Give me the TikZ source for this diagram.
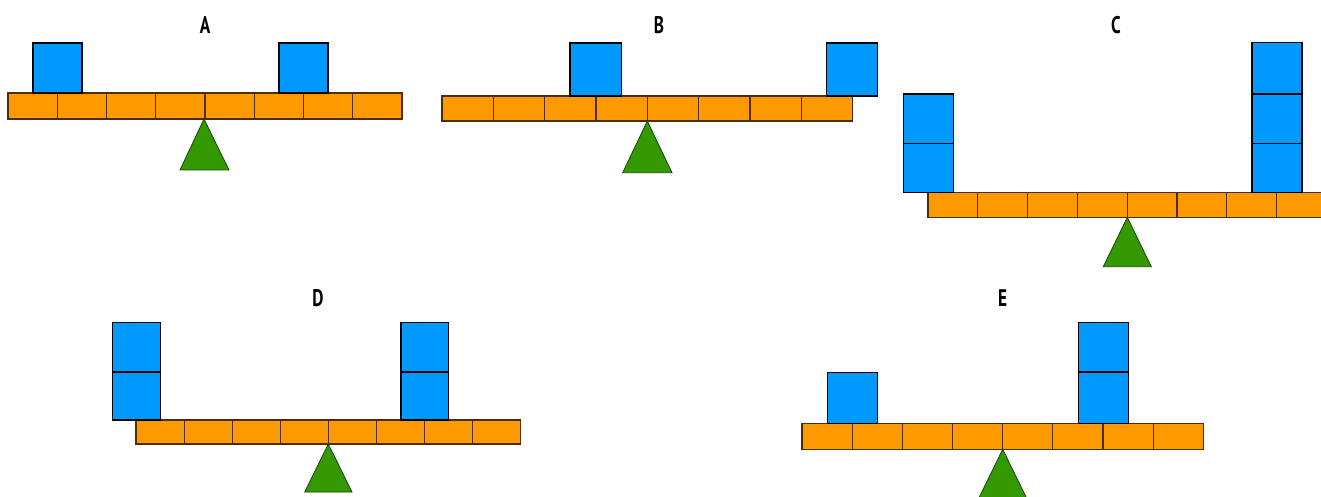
\documentclass[tikz,border=0pt]{standalone}
\usepackage{fontspec}
\setmainfont{PT Sans}[FakeStretch=0.72]
\definecolor{beamor}{RGB}{255,153,0}
\definecolor{blkblue}{RGB}{0,153,255}
\definecolor{fulgreen}{RGB}{51,153,0}
\begin{document}
\begin{tikzpicture}[x=1pt,y=-1pt,
  beamcell/.style={fill=beamor,draw=black!70!beamor,line width=1.1pt},
  blk/.style={fill=blkblue,draw=black,line width=1.3pt},
  fulc/.style={fill=fulgreen,draw=black!55!fulgreen,line width=0.8pt},
  lbl/.style={font=\fontsize{24}{26}\selectfont\bfseries,inner sep=0pt,anchor=center}]
\useasboundingbox (0,0) rectangle (1321,497);
\clip (0,0) rectangle (1321,497);
% ---------- A ----------
\node[lbl] (labA) at (205,25) {A};
\foreach \i in {0,...,7} \draw[beamcell] ({8+\i*49.25},93) rectangle ++(49.25,26);
\draw[fulc] (204,119) -- (229,170) -- (180,170) -- cycle;
\draw[blk] (33,43) rectangle (82,93);
\draw[blk] (279,43) rectangle (328,93);
% ---------- B ----------
\node[lbl] (labB) at (659,25) {B};
\foreach \i in {0,...,7} \draw[beamcell] ({442+\i*51.33},96) rectangle ++(51.33,25);
\draw[fulc] (647.3,121) -- (672,172.7) -- (622.7,172.7) -- cycle;
\draw[blk] (570,43) rectangle (621.3,96);
\draw[blk] (826.7,43) rectangle (877.7,96);
% ---------- C ----------
\node[lbl] (labC) at (1116,25) {C};
\foreach \i in {0,...,7} \draw[beamcell] ({928+\i*49.8},192.7) rectangle ++(49.8,24.6);
\draw[fulc] (1127.3,217.3) -- (1151.3,266.7) -- (1103.3,266.7) -- cycle;
\draw[blk] (903.3,94) rectangle (953.3,143.3);
\draw[blk] (903.3,143.3) rectangle (953.3,192.7);
\draw[blk] (1252,42.7) rectangle (1302,94);
\draw[blk] (1252,94) rectangle (1302,143.3);
\draw[blk] (1252,143.3) rectangle (1302,192.7);
% ---------- D ----------
\node[lbl] (labD) at (318,298) {D};
\foreach \i in {0,...,7} \draw[beamcell] ({136+\i*48.09},420) rectangle ++(48.09,24);
\draw[fulc] (328.3,444) -- (352,492) -- (304.7,492) -- cycle;
\draw[blk] (112.7,322.7) rectangle (160.7,372);
\draw[blk] (112.7,372) rectangle (160.7,420);
\draw[blk] (401,322.7) rectangle (448.7,372);
\draw[blk] (401,372) rectangle (448.7,420);
% ---------- E ----------
\node[lbl] (labE) at (1002.7,298) {E};
\foreach \i in {0,...,7} \draw[beamcell] ({802+\i*50.17},423.3) rectangle ++(50.17,26);
\draw[fulc] (1002.7,449.3) -- (1027.5,500) -- (977.9,500) -- cycle;
\draw[blk] (827.3,372.7) rectangle (877.3,423.3);
\draw[blk] (1078.7,322.7) rectangle (1128.7,372);
\draw[blk] (1078.7,372) rectangle (1128.7,423.3);
\end{tikzpicture}
\end{document}
